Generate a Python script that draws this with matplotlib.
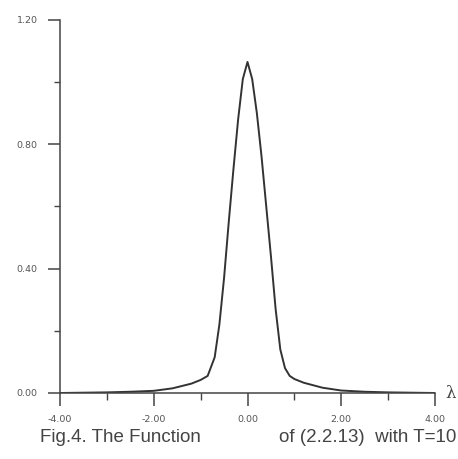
import matplotlib
matplotlib.use("Agg")
import matplotlib.pyplot as plt
from matplotlib.ticker import FixedLocator

# data
lam = [-4.0, -3.5, -3.0, -2.5, -2.0, -1.6, -1.2, -1.0, -0.85, -0.7, -0.6, -0.5,
       -0.4, -0.3, -0.2, -0.1, 0.0, 0.1, 0.2, 0.3, 0.4, 0.5, 0.6, 0.7, 0.8,
       0.9, 1.0, 1.2, 1.6, 2.0, 2.5, 3.0, 3.5, 4.0]
val = [0.000, 0.001, 0.002, 0.004, 0.007, 0.015, 0.030, 0.042, 0.055, 0.115,
       0.22, 0.37, 0.55, 0.72, 0.88, 1.01, 1.065, 1.01, 0.90, 0.76, 0.60, 0.44,
       0.27, 0.14, 0.08, 0.055, 0.045, 0.033, 0.017, 0.008, 0.004, 0.002,
       0.001, 0.000]

xmajor = [-4, -2, 0, 2, 4]
xminor = [-3, -1, 1, 3]
xlabels = ["-4.00", "-2.00", "0.00", "2.00", "4.00"]
ymajor = [0.0, 0.4, 0.8, 1.2]
yminor = [0.2, 0.6, 1.0]
ylabels = ["0.00", "0.40", "0.80", "1.20"]
caption_left = "Fig.4. The Function"
caption_right = "of (2.2.13)  with T=10"
xname = "λ"

W, H = 458, 459
fig = plt.figure(figsize=(W / 100, H / 100), dpi=100)
ax = fig.add_axes([60 / W, (H - 393) / H, 375 / W, 373 / H])
ax.plot(lam, val, color="#333333", lw=1.4)
ax.set_xlim(-4, 4)
ax.set_ylim(0, 1.2)
for s in ("top", "right"):
    ax.spines[s].set_visible(False)
for s in ("left", "bottom"):
    ax.spines[s].set_color("#444444")
    ax.spines[s].set_linewidth(1.1)
ax.xaxis.set_major_locator(FixedLocator(xmajor))
ax.xaxis.set_minor_locator(FixedLocator(xminor))
ax.yaxis.set_major_locator(FixedLocator(ymajor))
ax.yaxis.set_minor_locator(FixedLocator(yminor))
ax.set_xticklabels(xlabels)
ax.set_yticklabels(ylabels)
ax.tick_params(axis="both", which="major", direction="out", color="#444444",
               width=1.1, labelsize=6.8, labelcolor="#555555")
ax.tick_params(axis="x", which="major", length=9, pad=7)
ax.tick_params(axis="x", which="minor", length=5, width=1.0, color="#444444")
ax.tick_params(axis="y", which="major", length=9, pad=7)
ax.tick_params(axis="y", which="minor", length=4, width=1.0, color="#444444")

fig.text(40 / W, 1 - 437 / H, caption_left, fontsize=13.5, color="#444444",
         family="Liberation Sans", va="center", ha="left")
fig.text(456 / W, 1 - 437 / H, caption_right, fontsize=13.5, color="#444444",
         family="Liberation Sans", va="center", ha="right")
fig.text(451 / W, 1 - 393 / H, xname, fontsize=12, color="#444444",
         family="DejaVu Serif", va="center", ha="center")

fig.savefig("out.png", dpi=100)
